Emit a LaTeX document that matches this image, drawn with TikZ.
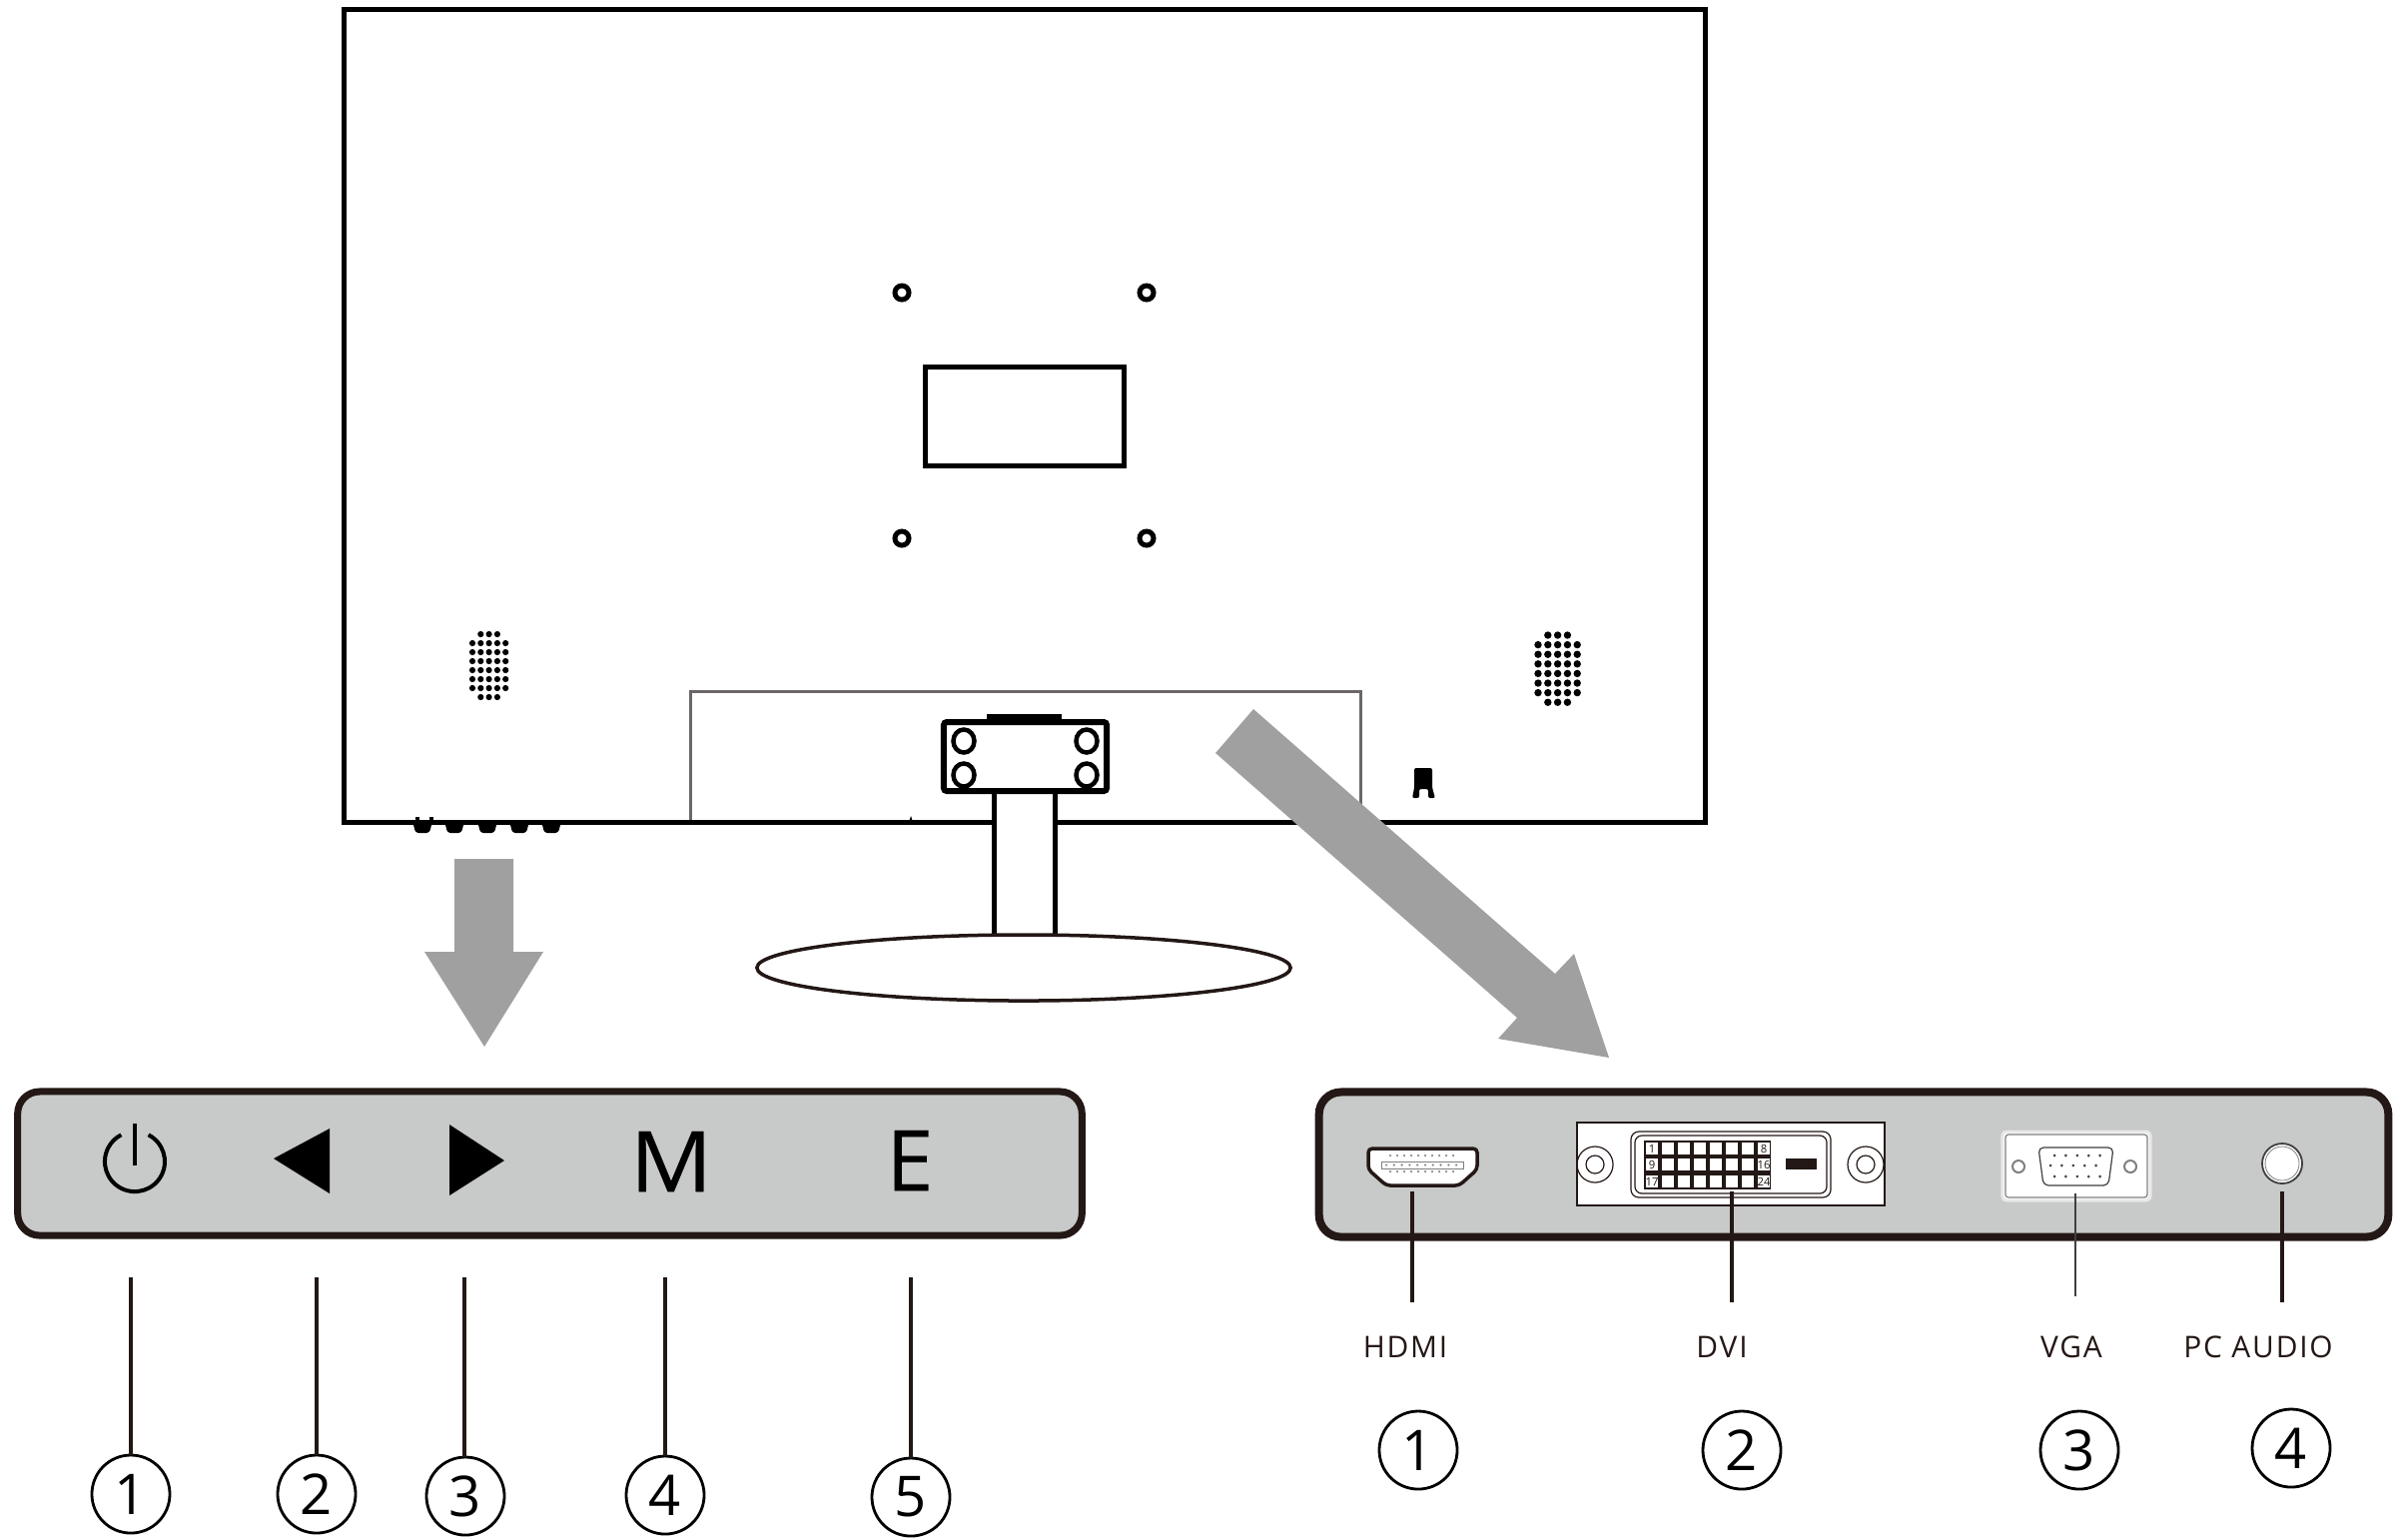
\documentclass[tikz,border=0pt]{standalone}
\usepackage{fontspec}
\usetikzlibrary{shapes.geometric}
\setmainfont{Open Sans}
\newfontfamily\portfont[LetterSpace=6]{Open Sans}
\newfontfamily\keyfont[FakeBold=.3]{Open Sans}
\newfontfamily\widekeyfont[FakeBold=.3,FakeStretch=1.08]{Open Sans}
\definecolor{panelgray}{HTML}{C8C9C9}
\definecolor{arrowgray}{HTML}{A0A0A0}
\definecolor{edgeblack}{HTML}{231815}
\definecolor{standgray}{HTML}{6B6767}
\definecolor{halogray}{HTML}{E8E8E8}
\begin{document}
\begin{tikzpicture}
	  [
	    x                    = .01cm,
	    y                    = -.01cm,
	    every node/.style    = {inner sep=0pt, outer sep=0pt},
	    body/.style          = {draw, line width=.05cm, minimum width=13.62cm, minimum height=8.13cm},
	    mountring/.style     = {circle, draw, line width=.05cm, minimum size=.14cm},
	    screw/.style         = {ellipse, draw, line width=.045cm, minimum width=.21cm, minimum height=.23cm},
	    panel/.style         = {draw=edgeblack, fill=panelgray, rounded corners=.22cm},
	    keyglyph/.style      = {font=\keyfont\fontsize{24}{24}\selectfont},
	    numcircle/.style     = {circle, draw, line width=.028cm, minimum size=.78cm, font=\fontsize{16}{16}\selectfont},
	    leader/.style        = {draw=edgeblack, line width=.04cm},
	    portlabel/.style     = {font=\portfont\fontsize{8.5}{9}\selectfont, text=edgeblack},
	    pinnum/.style        = {font=\fontsize{3.2}{3.5}\selectfont, text=edgeblack},
	    bigarrow/.style      = {fill=arrowgray}
	  ]
	  \useasboundingbox (0,0) rectangle (2398,1541);

	  \draw [standgray, line width=.03cm] (691,823) -- (691,692) -- (1362,692) -- (1362,823);
	  \node [body] (monitor) at (1026,416.5) {};
	  \node [draw, line width=.05cm, minimum width=1.98cm, minimum height=.98cm] (vesaplate) at (1026,417) {};
	  \foreach \name/\x/\y in {ringa/903/293, ringb/1148/293, ringc/903/539, ringd/1148/539}
	    \node [mountring] (\name) at (\x,\y) {};

	  \foreach \c in {0,...,4}
	    \foreach \r in {1,...,6} {
	      \fill (473+8.3*\c,635+9*\r) circle [radius=.031cm];
	      \fill (1540+9.8*\c,636+9.6*\r) circle [radius=.037cm];
	    }
	  \foreach \c in {1,2,3}
	    \foreach \r in {0,7} {
	      \fill (473+8.3*\c,635+9*\r) circle [radius=.031cm];
	      \fill (1540+9.8*\c,636+9.6*\r) circle [radius=.037cm];
	    }

	  \foreach \x in {423,455,488,520,552}
	    \fill [rounded corners=.03cm] (\x-10,822) -- (\x+10,822) -- (\x+7,834) -- (\x-7,834) -- cycle;
	  \fill (416,823) -- (416,818) -- (420,818) -- (420,823) -- cycle;
	  \fill (430,823) -- (430,818) -- (434,818) -- (434,823) -- cycle;
	  \fill (910,823) -- (912,817) -- (914,823) -- cycle;

	  \fill [rounded corners=.02cm] (1414,799) -- (1416,789) -- (1416,769) -- (1434,769) -- (1434,789) -- (1437,799) -- (1430,799) -- (1430,790) -- (1421,790) -- (1421,799) -- cycle;

	  \fill [white] (995,800) rectangle (1056,937);
	  \draw [line width=.05cm] (995,792) -- (995,937) (1056,792) -- (1056,937);
	  \node [ellipse, draw=edgeblack, line width=.035cm, minimum width=5.34cm, minimum height=.66cm] (footbase) at (1025,969) {};
	  \fill (988,725) rectangle (1063,715);
	  \node [draw, fill=white, line width=.06cm, rounded corners=.03cm, minimum width=1.63cm, minimum height=.69cm] (mount) at (1026.5,757.5) {};
	  \foreach \name/\x/\y in {screwa/965/742, screwb/1088/742, screwc/965/776, screwd/1088/776}
	    \node [screw] (\name) at (\x,\y) {};

	  \fill [bigarrow] (455,860) -- (514,860) -- (514,953) -- (544,953) -- (485,1048) -- (425,953) -- (455,953) -- cycle;
	  \fill [bigarrow] (1255,710) -- (1557,975) -- (1576,955) -- (1611,1059) -- (1500,1040) -- (1519,1019) -- (1217,754) -- cycle;

	  \node [panel, line width=.07cm, minimum width=10.65cm, minimum height=1.44cm] (keypanel) at (550.5,1165) {};
	  \node [panel, line width=.08cm, minimum width=10.7cm, minimum height=1.45cm] (portpanel) at (1856,1166) {};

	  \draw [line width=.04cm] (148.6,1136.3) arc [start angle=63, end angle=-243, radius=.3cm];
	  \draw [line width=.04cm] (135,1125) -- (135,1167);
	  \fill (274,1160) -- (330,1130) -- (330,1195) -- cycle;
	  \fill (450,1126) -- (505,1162) -- (450,1197) -- cycle;
	  \node [keyglyph, font=\widekeyfont\fontsize{24}{24}\selectfont] (keym) at (672,1163) {M};
	  \node [keyglyph] (keye) at (911,1162) {E};

	  \draw [draw=edgeblack, fill=white, line width=.035cm, rounded corners=.04cm] (1370,1150) -- (1479,1150) -- (1479,1171) -- (1461,1187) -- (1388,1187) -- (1370,1171) -- cycle;
	  \draw [gray, line width=.01cm, fill=white] (1383,1163) rectangle (1465,1170);
	  \foreach \c in {0,...,9} {
	    \fill [gray] (1392+7*\c,1157) circle [radius=.012cm];
	    \fill [gray] (1392+7*\c,1173) circle [radius=.012cm];
	    \fill [gray] (1388+7.8*\c,1166.5) circle [radius=.012cm];
	  }

	  \node [draw=edgeblack, fill=white, line width=.022cm, minimum width=3.08cm, minimum height=.83cm] (dviplate) at (1733,1165.5) {};
	  \foreach \name/\x in {dvileft/1597, dviright/1868} {
	    \node [circle, draw=edgeblack, line width=.012cm, minimum size=.36cm] (\name) at (\x,1166) {};
	    \node [circle, draw=edgeblack, line width=.012cm, minimum size=.18cm] (\name in) at (\x,1166) {};
	  }
	  \node [draw=edgeblack, line width=.012cm, rounded corners=.08cm, minimum width=2cm, minimum height=.66cm] (dvishell) at (1733,1166) {};
	  \node [draw=edgeblack, line width=.012cm, rounded corners=.07cm, minimum width=1.92cm, minimum height=.58cm] (dvishellin) at (1733,1166) {};
	  \fill [edgeblack] (1646,1142) rectangle (1773,1191);
	  \foreach \c in {0,...,7}
	    \foreach \y in {1150,1166,1183}
	      \fill [white] (1648+16*\c,\y-6) rectangle (1660+16*\c,\y+6);
	  \foreach \lab/\x/\y in {1/1654/1150, 8/1766/1150, 9/1654/1166, 16/1766/1166, 17/1654/1183, 24/1766/1183}
	    \node [pinnum] (pin\lab) at (\x,\y) {\lab};
	  \fill [edgeblack] (1788,1160) rectangle (1819,1171);

	  \node [draw=halogray, fill=white, line width=.03cm, minimum width=1.48cm, minimum height=.69cm, rounded corners=.04cm] (vgahalo) at (2079,1167.5) {};
	  \node [draw=gray, fill=white, line width=.012cm, minimum width=1.42cm, minimum height=.63cm, rounded corners=.03cm] (vgaplate) at (2079,1167.5) {};
	  \node [circle, draw=gray, line width=.02cm, minimum size=.12cm] (vgaleft) at (2021,1168) {};
	  \node [circle, draw=gray, line width=.02cm, minimum size=.12cm] (vgaright) at (2133,1168) {};
	  \draw [darkgray, line width=.012cm, rounded corners=.05cm] (2041,1149) -- (2116,1149) -- (2111,1187) -- (2046,1187) -- cycle;
	  \foreach \c in {0,...,4} {
	    \fill [darkgray] (2057+11.4*\c,1157) circle [radius=.015cm];
	    \fill [darkgray] (2053+11.4*\c,1167) circle [radius=.015cm];
	    \fill [darkgray] (2057+11.4*\c,1178) circle [radius=.015cm];
	  }

	  \node [circle, draw=darkgray, fill=white, line width=.018cm, minimum size=.4cm] (audio) at (2285,1165) {};
	  \node [circle, draw=gray, line width=.008cm, minimum size=.34cm] (audioin) at (2285,1165) {};

	  \foreach \n/\x/\y/\lx in {1/131/1496/131, 2/317/1496/317, 3/466/1498/465, 4/666/1497/666, 5/912/1499/912} {
	    \coordinate (keyfoot\n) at (\lx,1279);
	    \coordinate (keyend\n) at (\lx,\y-39);
	    \node [numcircle] (keynum\n) at (\x,\y) {\n};
	    \draw [leader] (keyfoot\n) -- (keyend\n);
	  }

	  \foreach \n/\x/\y/\lab/\tx in {1/1420/1452/HDMI/1407, 2/1744/1452/DVI/1724, 3/2082/1452/VGA/2074, 4/2294/1450/PC AUDIO/2261} {
	    \node [numcircle] (portnum\n) at (\x,\y) {\n};
	    \node [portlabel] (portlab\n) at (\tx,1349) {\lab};
	  }
	  \coordinate (hdmitop) at (1414,1193);
	  \coordinate (hdmiend) at (1414,1304);
	  \coordinate (dvitop) at (1734,1193);
	  \coordinate (dviend) at (1734,1304);
	  \coordinate (vgatop) at (2078,1195);
	  \coordinate (vgaend) at (2078,1298);
	  \coordinate (audiotop) at (2285,1193);
	  \coordinate (audioend) at (2285,1304);
	  \draw [leader] (hdmitop) -- (hdmiend);
	  \draw [leader] (dvitop) -- (dviend);
	  \draw [leader, line width=.025cm, draw=darkgray] (vgatop) -- (vgaend);
	  \draw [leader] (audiotop) -- (audioend);
	\end{tikzpicture}
\end{document}
